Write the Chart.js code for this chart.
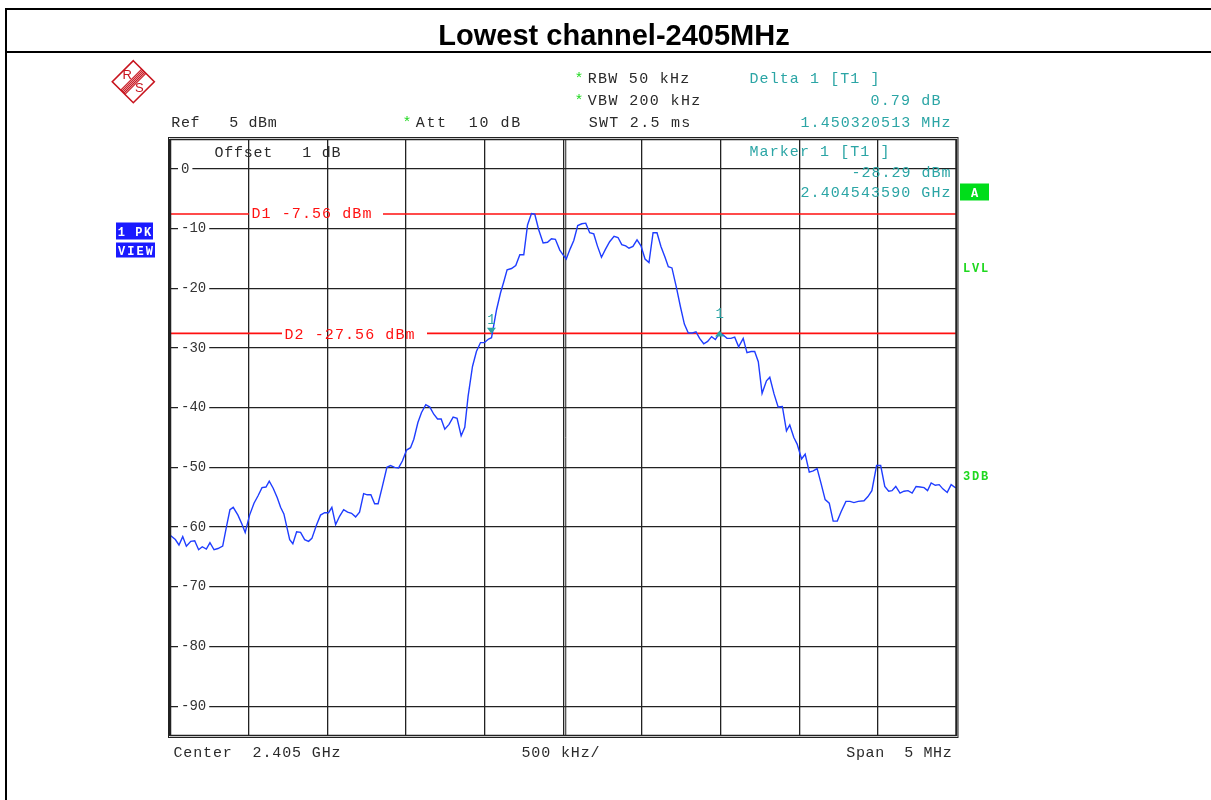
<!DOCTYPE html>
<html>
<head>
<meta charset="utf-8">
<title>Lowest channel-2405MHz</title>
<script src="https://cdn.jsdelivr.net/npm/chart.js@4.4.0/dist/chart.umd.min.js"></script>
<style>
  html, body { margin: 0; padding: 0; background: #fff; }
  canvas { display: block; }
</style>
</head>
<body>
<canvas id="chart_spectrum" width="1211" height="800"></canvas>
<script>
//タイトル
const chartTitle = 'Lowest channel-2405MHz';

//周波数 (MHz)
const freqMHz = [
  2402.503, 2402.534, 2402.557, 2402.581, 2402.604, 2402.632, 2402.657, 2402.682, 2402.705, 2402.731,
  2402.754, 2402.780, 2402.805, 2402.835, 2402.860, 2402.881, 2402.902, 2402.932, 2402.957, 2402.978,
  2403.006, 2403.034, 2403.059, 2403.085, 2403.110, 2403.131, 2403.156, 2403.182, 2403.203, 2403.224,
  2403.261, 2403.281, 2403.305, 2403.330, 2403.356, 2403.381, 2403.402, 2403.432, 2403.457, 2403.483,
  2403.508, 2403.529, 2403.553, 2403.578, 2403.604, 2403.629, 2403.654, 2403.680, 2403.705, 2403.731,
  2403.754, 2403.777, 2403.801, 2403.823, 2403.849, 2403.879, 2403.902, 2403.928, 2403.953, 2403.978,
  2404.004, 2404.029, 2404.050, 2404.076, 2404.099, 2404.126, 2404.152, 2404.177, 2404.201, 2404.224,
  2404.247, 2404.274, 2404.300, 2404.325, 2404.351, 2404.374, 2404.395, 2404.423, 2404.448, 2404.474,
  2404.499, 2404.525, 2404.544, 2404.576, 2404.601, 2404.622, 2404.643, 2404.671, 2404.698, 2404.724,
  2404.749, 2404.773, 2404.798, 2404.819, 2404.844, 2404.872, 2404.900, 2404.925, 2404.950, 2404.978,
  2404.999, 2405.019, 2405.044, 2405.067, 2405.092, 2405.118, 2405.143, 2405.168, 2405.194, 2405.217,
  2405.243, 2405.268, 2405.295, 2405.323, 2405.348, 2405.372, 2405.397, 2405.418, 2405.443, 2405.469,
  2405.494, 2405.520, 2405.545, 2405.571, 2405.596, 2405.621, 2405.647, 2405.668, 2405.691, 2405.719,
  2405.745, 2405.770, 2405.795, 2405.821, 2405.844, 2405.867, 2405.893, 2405.918, 2405.943, 2405.967,
  2405.994, 2406.015, 2406.041, 2406.066, 2406.090, 2406.115, 2406.144, 2406.168, 2406.194, 2406.217,
  2406.240, 2406.264, 2406.292, 2406.313, 2406.340, 2406.366, 2406.393, 2406.419, 2406.440, 2406.466,
  2406.487, 2406.515, 2406.538, 2406.564, 2406.589, 2406.614, 2406.638, 2406.665, 2406.691, 2406.716,
  2406.742, 2406.767, 2406.797, 2406.823, 2406.848, 2406.875, 2406.912, 2406.937, 2406.962, 2406.992,
  2407.018, 2407.044, 2407.069, 2407.090, 2407.114, 2407.141, 2407.166, 2407.192, 2407.218, 2407.243,
  2407.269, 2407.294, 2407.316, 2407.339, 2407.365, 2407.390, 2407.413, 2407.441, 2407.466, 2407.492,
  2407.500
];

//レベル (dBm)
const levelDbm = [
  -61.4, -62.1, -63.0, -61.6, -63.2, -62.4, -62.3, -63.8, -63.3, -63.7,
  -62.6, -63.8, -63.6, -63.2, -59.8, -57.1, -56.7, -58.0, -59.5, -60.9,
  -58.0, -56.0, -54.8, -53.4, -53.3, -52.3, -53.5, -55.1, -56.7, -57.8,
  -62.1, -62.8, -60.8, -60.9, -62.1, -62.4, -61.9, -59.6, -58.0, -57.6,
  -57.6, -56.7, -59.6, -58.2, -57.1, -57.5, -57.7, -58.3, -57.5, -54.4,
  -54.6, -54.6, -56.1, -56.1, -53.3, -50.0, -49.7, -50.0, -50.1, -48.9,
  -47.1, -46.7, -45.3, -42.5, -40.8, -39.5, -39.9, -41.1, -41.9, -41.9,
  -43.6, -42.8, -41.6, -41.8, -44.7, -43.3, -38.1, -33.1, -30.6, -29.1,
  -29.1, -28.5, -28.29, -23.6, -20.8, -18.9, -16.9, -16.7, -16.2, -14.4,
  -14.4, -9.4, -7.5, -7.6, -10.2, -12.4, -12.3, -11.7, -11.8, -13.6,
  -14.4, -15.1, -13.4, -12.0, -9.5, -9.2, -9.1, -10.7, -10.9, -12.9,
  -14.8, -13.5, -12.2, -11.3, -11.5, -12.7, -12.9, -13.3, -13.0, -11.9,
  -12.9, -15.1, -15.7, -10.7, -10.7, -13.0, -14.8, -16.4, -16.6, -19.8,
  -23.1, -26.0, -27.5, -27.5, -27.3, -28.4, -29.3, -28.9, -28.1, -28.6,
  -27.5, -27.8, -28.4, -28.4, -28.2, -29.8, -28.4, -30.8, -30.6, -30.6,
  -32.3, -37.6, -35.5, -34.9, -37.7, -39.9, -39.8, -43.9, -42.9, -45.0,
  -46.1, -48.6, -47.8, -50.8, -50.6, -50.2, -52.6, -55.4, -56.0, -59.0,
  -59.0, -57.4, -55.7, -55.7, -55.9, -55.7, -55.6, -54.9, -53.9, -49.7,
  -49.7, -53.2, -54.0, -53.9, -53.2, -54.3, -54.0, -53.9, -54.3, -53.2,
  -53.3, -53.4, -53.9, -52.6, -53.0, -52.9, -53.6, -54.2, -52.9, -53.4,
  -53.4
];

//軸
const spanStart = 2402.5;
const spanEnd = 2407.5;
const centerMHz = 2405;
const divMHz = 0.5;
const refLevel = 5;
const bottomLevel = -95;
const yTicks = [0, -10, -20, -30, -40, -50, -60, -70, -80, -90];

//表示ライン D1 / D2
const lineLevels = [-7.56, -27.56];
const lineLabels = ['D1 -7.56 dBm', 'D2 -27.56 dBm'];

//マーカー (1: 基準, 2: デルタ)
const markerFreq = [2404.54359, 2405.993911];
const markerLevel = [-28.29, -27.50];

const MONO = '"Liberation Mono", "DejaVu Sans Mono", monospace';
const TEXT_FONT = '15px ' + MONO;
const TEAL = '#2ba5a5';
const GREEN = '#1fd81f';
const RED = '#ff1010';

//等間隔で文字を置く
function monoText(c, text, x0, x1, y, color, font) {
  const pitch = (x1 - x0) / text.length;
  c.save();
  c.font = font || TEXT_FONT;
  c.fillStyle = color;
  c.textAlign = 'center';
  c.textBaseline = 'alphabetic';
  for (let i = 0; i < text.length; i++) {
    c.fillText(text[i], x0 + pitch * (i + 0.5), y);
  }
  c.restore();
}

//R&Sロゴ
function drawLogo(c, cx, cy, r) {
  c.save();
  c.strokeStyle = '#c8141e';
  c.lineWidth = 1.6;
  c.beginPath();
  c.moveTo(cx, cy - r); c.lineTo(cx + r, cy); c.lineTo(cx, cy + r); c.lineTo(cx - r, cy);
  c.closePath();
  c.stroke();
  c.lineWidth = 1.1;
  [-3, -1.5, 0, 1.5, 3].forEach(function (o) {
    const d = o * 0.707;
    c.beginPath();
    c.moveTo(cx - 10.5 + d, cy + 10.5 + d);
    c.lineTo(cx + 10.5 + d, cy - 10.5 + d);
    c.stroke();
  });
  c.fillStyle = '#c8141e';
  c.font = '13px "Liberation Sans", sans-serif';
  c.textAlign = 'center';
  c.textBaseline = 'middle';
  c.fillText('R', cx - 6, cy - 6);
  c.fillText('S', cx + 6, cy + 7);
  c.restore();
}

//色付きボックス
function labelBox(c, text, x, y, w, h, bg) {
  c.save();
  c.fillStyle = bg;
  c.fillRect(x, y, w, h);
  c.restore();
  monoText(c, text, x + 1, x + w - 1, y + h / 2 + 4.5, '#fff', 'bold 12px ' + MONO);
}

//枠と文字
const analyzerPlugin = {
  id: 'analyzer',
  beforeDraw(chart) {
    const c = chart.ctx;
    c.save();
    c.fillStyle = '#fff';
    c.fillRect(0, 0, chart.width, chart.height);

    //外枠
    c.strokeStyle = '#000';
    c.lineWidth = 2;
    c.beginPath();
    c.moveTo(6, 820); c.lineTo(6, 9); c.lineTo(1220, 9);
    c.moveTo(6, 52); c.lineTo(1220, 52);
    c.stroke();

    //タイトル
    c.font = 'bold 29px "Liberation Sans", Arial, sans-serif';
    c.fillStyle = '#000';
    c.textAlign = 'center';
    c.textBaseline = 'alphabetic';
    c.fillText(chartTitle, 614, 45);
    c.restore();

    drawLogo(c, 133.3, 81.7, 21);

    //設定表示
    const dark = '#2a2a2a';
    monoText(c, '*', 574, 584, 83, GREEN);
    monoText(c, 'RBW 50 kHz', 587, 690, 83, dark);
    monoText(c, '*', 574, 584, 105, GREEN);
    monoText(c, 'VBW 200 kHz', 587, 701, 105, dark);
    monoText(c, 'Ref   5 dBm', 171, 277, 127, dark);
    monoText(c, '*', 402, 412, 127, GREEN);
    monoText(c, 'Att  10 dB', 415, 521, 127, dark);
    monoText(c, 'SWT 2.5 ms', 588, 691, 127, dark);

    monoText(c, 'Delta 1 [T1 ]', 749, 880, 83, TEAL);
    monoText(c, '0.79 dB', 870, 941, 105, TEAL);
    monoText(c, '1.450320513 MHz', 800, 951, 127, TEAL);

    labelBox(c, '1 PK', 116, 222.5, 37, 17, '#1a1aff');
    labelBox(c, 'VIEW', 116, 242.5, 39, 15, '#1a1aff');

    //右側の表示
    labelBox(c, 'A', 960, 183.5, 29, 17, '#00dd1a');
    monoText(c, 'LVL', 962, 989, 271.5, GREEN, 'bold 12px ' + MONO);
    monoText(c, '3DB', 962, 989, 480, GREEN, 'bold 12px ' + MONO);

    //下の表示
    monoText(c, 'Center  2.405 GHz', 173, 341, 757, dark);
    monoText(c, '500 kHz/', 521, 600, 757, dark);
    monoText(c, 'Span  5 MHz', 846, 952, 757, dark);
  },
  beforeDatasetsDraw(chart) {
    const c = chart.ctx;
    const a = chart.chartArea;
    const xs = chart.scales.x;
    const ys = chart.scales.y;

    //中心線は二重
    const cx = xs.getPixelForValue(centerMHz) + 2.5;
    c.save();
    c.strokeStyle = '#222';
    c.lineWidth = 1;
    c.beginPath();
    c.moveTo(cx, a.top); c.lineTo(cx, a.bottom);
    c.stroke();

    //D1 / D2 ライン
    const gaps = [[249, 383], [282, 427]];
    c.strokeStyle = RED;
    c.lineWidth = 1.6;
    lineLevels.forEach(function (lv, i) {
      const y = ys.getPixelForValue(lv);
      c.beginPath();
      c.moveTo(a.left, y); c.lineTo(gaps[i][0], y);
      c.moveTo(gaps[i][1], y); c.lineTo(a.right, y);
      c.stroke();
    });
    c.restore();
    monoText(c, lineLabels[0], 251, 372, 218, RED);
    monoText(c, lineLabels[1], 284, 415, 339, RED);
  },
  afterDraw(chart) {
    const c = chart.ctx;
    const a = chart.chartArea;
    const xs = chart.scales.x;
    const ys = chart.scales.y;

    //グラフ枠
    c.save();
    c.strokeStyle = '#222';
    c.lineWidth = 1;
    c.strokeRect(a.left - 1.5, a.top - 1.5, a.right - a.left + 3, a.bottom - a.top + 3);
    c.lineWidth = 1.5;
    c.strokeRect(a.left + 0.5, a.top + 0.5, a.right - a.left - 1, a.bottom - a.top - 1);

    //マーカー
    c.fillStyle = TEAL;
    const m1x = xs.getPixelForValue(markerFreq[0]);
    const m1y = ys.getPixelForValue(markerLevel[0]);
    c.beginPath();
    c.moveTo(m1x - 4.5, m1y - 10); c.lineTo(m1x + 4.5, m1y - 10); c.lineTo(m1x, m1y - 4);
    c.closePath(); c.fill();
    const m2x = xs.getPixelForValue(markerFreq[1]);
    const m2y = ys.getPixelForValue(markerLevel[1]);
    c.beginPath();
    c.moveTo(m2x, m2y - 2.5); c.lineTo(m2x + 4.5, m2y + 3.5); c.lineTo(m2x - 4.5, m2y + 3.5);
    c.closePath(); c.fill();
    c.font = '14px ' + MONO;
    c.textAlign = 'center';
    c.fillText('1', m1x, m1y - 14);
    c.fillText('1', m2x, m2y - 15);
    c.restore();

    //グラフ内の文字
    monoText(c, 'Offset   1 dB', 214, 341, 157, '#2a2a2a');
    monoText(c, 'Marker 1 [T1 ]', 749, 890, 156, TEAL);
    monoText(c, '-28.29 dBm', 851, 951, 176.5, TEAL);
    monoText(c, '2.404543590 GHz', 800, 951, 197, TEAL);
  }
};

//データを用意する
const draw = {
  datasets: [{
    label: 'Trace 1',
    data: freqMHz.map(function (f, i) { return {x: f, y: levelDbm[i]}; }),
    borderColor: '#1f3dff',
    borderWidth: 1.4,
    pointRadius: 0,
    tension: 0,
    fill: false
  }]
};

//表示処理
const chartArea = document.getElementById('chart_spectrum');
const myChart = new Chart(chartArea, {
  type: 'line',
  data: draw,
  options: {
    responsive: false,
    animation: false,
    devicePixelRatio: 1,
    layout: { padding: { left: 170, top: 139, right: 254.5, bottom: 64 } },
    plugins: {
      legend: { display: false },
      title: { display: false },
      tooltip: { enabled: false }
    },
    scales: {
      x: {
        type: 'linear',
        min: spanStart,
        max: spanEnd,
        ticks: { display: false, stepSize: divMHz },
        grid: {
          drawTicks: false,
          color: '#222',
          lineWidth: 1.3
        },
        border: { display: false },
        afterFit: function (s) { s.height = 0; }
      },
      y: {
        type: 'linear',
        min: bottomLevel,
        max: refLevel,
        afterBuildTicks: function (s) {
          s.ticks = yTicks.map(function (v) { return {value: v}; });
        },
        ticks: {
          mirror: true,
          padding: 11,
          color: '#333',
          font: { family: '"Liberation Mono", monospace', size: 14 },
          showLabelBackdrop: true,
          backdropColor: '#fff',
          backdropPadding: { left: 3, right: 3, top: 0, bottom: 0 }
        },
        grid: {
          drawTicks: false,
          color: '#222',
          lineWidth: 1.3
        },
        border: { display: false },
        afterFit: function (s) { s.width = 0; }
      }
    }
  },
  plugins: [analyzerPlugin]
});
</script>
</body>
</html>
